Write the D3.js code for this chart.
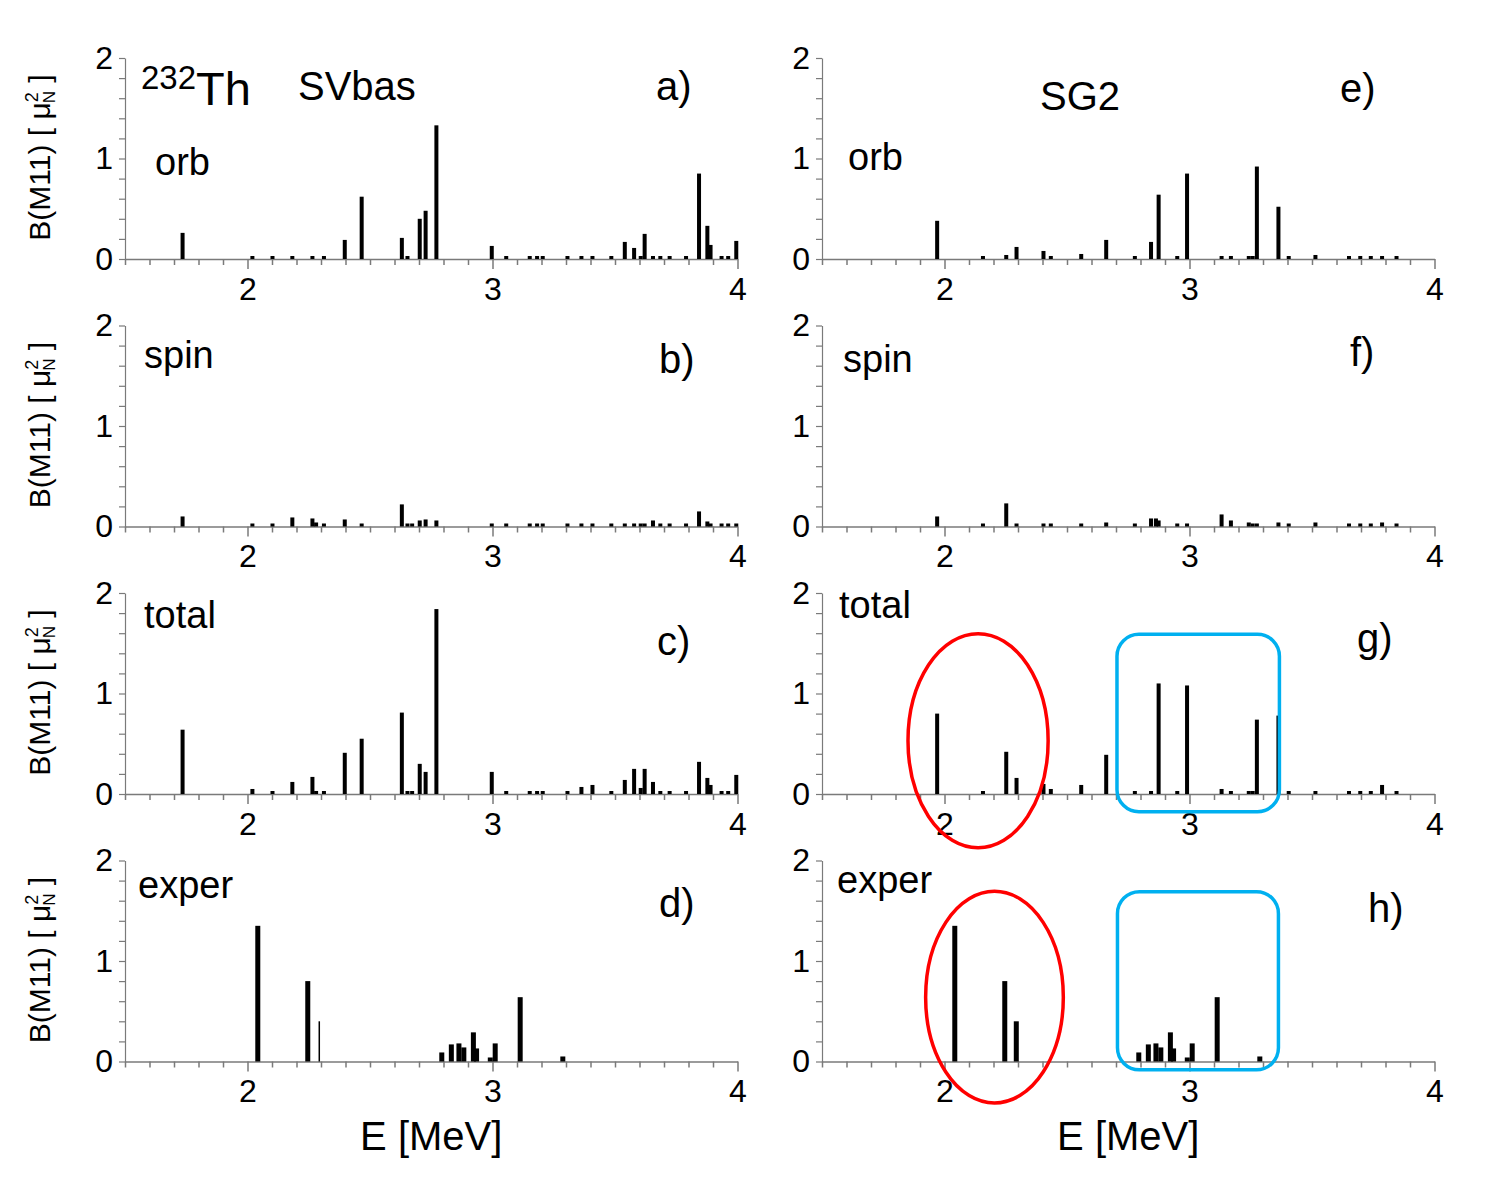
<!DOCTYPE html>
<html>
<head>
<meta charset="utf-8">
<script src="https://cdn.jsdelivr.net/npm/d3@7"></script>
<style>
body { margin: 0; background: #fff; }
svg { display: block; font-family: "Liberation Sans", Arial, sans-serif; }
</style>
</head>
<body>
<div id="graphic"></div>
<script>
// energies [MeV] and B(M1) strengths
var svbasE = [1.735, 2.02, 2.102, 2.183, 2.265, 2.28, 2.312, 2.397, 2.466, 2.63, 2.653, 2.672, 2.703, 2.727, 2.771,
	2.997, 3.056, 3.152, 3.182, 3.205, 3.306, 3.363, 3.408, 3.485, 3.54, 3.578, 3.605, 3.621, 3.655, 3.685,
	3.723, 3.79, 3.843, 3.877, 3.89, 3.935, 3.962, 3.995];
var svbasOrb = [0.26, 0.01, 0.01, 0.01, 0.02, 0, 0.01, 0.19, 0.62, 0.21, 0.02, 0, 0.40, 0.48, 1.33,
	0.13, 0.01, 0.01, 0.03, 0.02, 0.02, 0.01, 0.03, 0.02, 0.17, 0.11, 0.02, 0.25, 0.02, 0.01,
	0.01, 0.01, 0.85, 0.33, 0.14, 0.01, 0.01, 0.18];
var svbasSpin = [0.10, 0.02, 0.01, 0.09, 0.08, 0.04, 0.01, 0.07, 0.01, 0.22, 0.02, 0.02, 0.06, 0.07, 0.06,
	0.03, 0.01, 0.02, 0.02, 0.02, 0.02, 0.03, 0.03, 0.02, 0.02, 0.03, 0.02, 0.01, 0.06, 0.02,
	0.01, 0.01, 0.15, 0.05, 0.03, 0.02, 0.02, 0.02];
var svbasTotal = [0.64, 0.05, 0.02, 0.12, 0.17, 0.03, 0.01, 0.41, 0.55, 0.81, 0.01, 0.01, 0.30, 0.22, 1.84,
	0.22, 0.01, 0.01, 0.02, 0.02, 0.03, 0.07, 0.09, 0.01, 0.14, 0.25, 0.06, 0.25, 0.12, 0.01,
	0.01, 0.01, 0.32, 0.16, 0.09, 0.01, 0.01, 0.19];

var sg2E = [1.97, 2.157, 2.252, 2.294, 2.404, 2.434, 2.558, 2.66, 2.777, 2.843, 2.863, 2.874, 2.95, 2.99,
	3.131, 3.169, 3.242, 3.258, 3.275, 3.363, 3.405, 3.514, 3.651, 3.697, 3.74, 3.786, 3.845];
var sg2Orb = [0.38, 0.01, 0.04, 0.12, 0.08, 0.03, 0.05, 0.19, 0.01, 0.17, 0, 0.64, 0.02, 0.85,
	0.02, 0.03, 0.01, 0.02, 0.92, 0.52, 0.01, 0.04, 0.01, 0.03, 0.01, 0.01, 0.01];
var sg2Spin = [0.10, 0.01, 0.23, 0.02, 0.02, 0.02, 0.02, 0.04, 0.01, 0.08, 0.08, 0.06, 0.02, 0.03,
	0.12, 0.06, 0.04, 0.03, 0.03, 0.04, 0.01, 0.04, 0.01, 0.03, 0.02, 0.04, 0.02];
var sg2Total = [0.80, 0.01, 0.42, 0.16, 0.10, 0.05, 0.09, 0.39, 0.01, 0.03, 0, 1.10, 0.03, 1.08,
	0.05, 0.01, 0.03, 0.03, 0.74, 0.78, 0.02, 0.01, 0.01, 0.03, 0.01, 0.09, 0.02];

var experE = [2.042, 2.246, 2.293, 2.793, 2.832, 2.863, 2.883, 2.922, 2.935, 2.991, 3.011, 3.113, 3.287];
var experB = [1.35, 0.80, 0.40, 0.09, 0.17, 0.18, 0.14, 0.29, 0.13, 0.04, 0.18, 0.64, 0.05];

var xDomain = [1.5, 4];
var yDomain = [0, 2];
var xLabels = [2, 3, 4];
var yLabels = [0, 1, 2];

// highlight marks on g) and h), in data units
var redOvals = [
	{ panel: "g", cx: 2.137, cy: 0.53, rx: 0.286, ry: 1.065 },
	{ panel: "h", cx: 2.204, cy: 0.64, rx: 0.281, ry: 1.053 }
];
var blueBoxes = [
	{ panel: "g", e0: 2.704, e1: 3.367, b0: -0.176, b1: 1.59 },
	{ panel: "h", e0: 2.706, e1: 3.363, b0: -0.083, b1: 1.69 }
];

var panels = [
	{ id: "a", col: 0, row: 0, E: svbasE, B: svbasOrb, name: "orb", nx: 30, ny: 117, lx: 531, ly: 42 },
	{ id: "b", col: 0, row: 1, E: svbasE, B: svbasSpin, name: "spin", nx: 19, ny: 42, lx: 534, ly: 47 },
	{ id: "c", col: 0, row: 2, E: svbasE, B: svbasTotal, name: "total", nx: 19, ny: 35, lx: 532, ly: 62 },
	{ id: "d", col: 0, row: 3, E: experE, B: experB, name: "exper", nx: 13, ny: 37, lx: 534, ly: 56, bw: 5, thin: [2] },
	{ id: "e", col: 1, row: 0, E: sg2E, B: sg2Orb, name: "orb", nx: 26, ny: 112, lx: 518, ly: 44 },
	{ id: "f", col: 1, row: 1, E: sg2E, B: sg2Spin, name: "spin", nx: 21, ny: 46, lx: 528, ly: 40 },
	{ id: "g", col: 1, row: 2, E: sg2E, B: sg2Total, name: "total", nx: 17, ny: 25, lx: 535, ly: 59 },
	{ id: "h", col: 1, row: 3, E: experE, B: experB, name: "exper", nx: 15, ny: 32, lx: 546, ly: 61, bw: 5 }
];

var colX = [125, 822];
var rowY = [58, 325.5, 593, 860.5];
var W = 612.5, H = 201;
var axisCol = "#7a7a7a";

var svg = d3.select("#graphic").append("svg")
	.attr("width", 1504)
	.attr("height", 1179);

var x = d3.scaleLinear().domain(xDomain).range([0, W]);
var y = d3.scaleLinear().domain(yDomain).range([H, 0]);

var xMinor = d3.range(15, 41).map(function(i) { return i / 10; });
var yMinor = d3.range(0, 11).map(function(i) { return i / 5; });

function isLabel(list, d) {
	return list.some(function(v) { return Math.abs(v - d) < 1e-6; });
}

panels.forEach(function(p) {
	var g = svg.append("g")
		.attr("transform", "translate(" + colX[p.col] + "," + rowY[p.row] + ")");

	// y axis
	var ya = g.append("g")
		.call(d3.axisLeft(y).tickValues(yMinor).tickSize(6).tickSizeOuter(0).tickPadding(6)
			.tickFormat(function(d) { return isLabel(yLabels, d) ? d3.format("d")(d) : ""; }));
	ya.select(".domain").attr("stroke", axisCol).attr("stroke-width", 1.2);
	ya.selectAll(".tick line").attr("stroke", axisCol).attr("stroke-width", 1.2);
	ya.selectAll(".tick text").attr("fill", "#000").style("font-size", "32px")
		.attr("font-family", "Liberation Sans, Arial, sans-serif");

	// x axis
	var xa = g.append("g")
		.attr("transform", "translate(0," + H + ")")
		.call(d3.axisBottom(x).tickValues(xMinor).tickSize(6).tickSizeOuter(0).tickPadding(12)
			.tickFormat(function(d) { return isLabel(xLabels, d) ? d3.format("d")(d) : ""; }));
	xa.select(".domain").attr("stroke", axisCol).attr("stroke-width", 1.5);
	xa.selectAll(".tick line")
		.attr("stroke", axisCol)
		.attr("stroke-width", 1.5)
		.attr("y2", function(d) { return isLabel(xLabels, d) ? 10 : 6; });
	xa.selectAll(".tick text").attr("fill", "#000").style("font-size", "32px")
		.attr("font-family", "Liberation Sans, Arial, sans-serif");

	// bars
	var rows = p.E.map(function(e, i) { return { e: e, b: p.B[i], i: i }; })
		.filter(function(d) { return d.b > 0; });
	var bw = p.bw || 4;
	function barW(d) {
		return p.thin && p.thin.indexOf(d.i) >= 0 ? 1.5 : bw;
	}
	g.append("g").selectAll("rect")
		.data(rows)
		.enter()
		.append("rect")
		.attr("x", function(d) { return x(d.e) - barW(d) / 2; })
		.attr("width", barW)
		.attr("y", function(d) { return Math.min(y(d.b), y(0) - 3); })
		.attr("height", function(d) { return Math.max(y(0) - y(d.b), 3); })
		.attr("fill", "#000");

	// panel texts
	g.append("text")
		.attr("x", p.nx).attr("y", p.ny)
		.style("font-size", "38px")
		.text(p.name);
	g.append("text")
		.attr("x", p.lx).attr("y", p.ly)
		.style("font-size", "40px")
		.text(p.id + ")");

	p.g = g;
});

// titles in the top row
var ga = panels[0].g;
var th = ga.append("text").attr("x", 16).attr("y", 47);
th.append("tspan").style("font-size", "33px").attr("dy", -16).text("232");
th.append("tspan").style("font-size", "47px").attr("dy", 16).text("Th");
ga.append("text").attr("x", 173).attr("y", 42).style("font-size", "40px").text("SVbas");
panels[4].g.append("text").attr("x", 218).attr("y", 52).style("font-size", "40px").text("SG2");

// y titles
rowY.forEach(function(top) {
	var t = svg.append("text")
		.attr("transform", "translate(50," + (top + H / 2 - 1) + ") rotate(-90)")
		.attr("text-anchor", "middle")
		.style("font-size", "30px");
	t.append("tspan").text("B(M11) [ \u03bc");
	t.append("tspan").style("font-size", "18px").attr("dy", -12).text("2");
	t.append("tspan").style("font-size", "17px").attr("dx", -11).attr("dy", 17).text("N");
	t.append("tspan").attr("dy", -5).text(" ]");
});

// x titles
colX.forEach(function(x0) {
	svg.append("text")
		.attr("x", x0 + W / 2)
		.attr("y", 1150)
		.attr("text-anchor", "middle")
		.style("font-size", "40px")
		.text("E [MeV]");
});

// highlights
function panelById(id) {
	return panels.filter(function(p) { return p.id === id; })[0].g;
}
redOvals.forEach(function(o) {
	panelById(o.panel).append("ellipse")
		.attr("cx", x(o.cx)).attr("cy", y(o.cy))
		.attr("rx", x(o.cx + o.rx) - x(o.cx))
		.attr("ry", y(0) - y(o.ry))
		.attr("fill", "none")
		.attr("stroke", "#ff0000")
		.attr("stroke-width", 3.5);
});
blueBoxes.forEach(function(b) {
	panelById(b.panel).append("rect")
		.attr("x", x(b.e0)).attr("y", y(b.b1))
		.attr("width", x(b.e1) - x(b.e0))
		.attr("height", y(b.b0) - y(b.b1))
		.attr("rx", 22).attr("ry", 22)
		.attr("fill", "none")
		.attr("stroke", "#00b0f0")
		.attr("stroke-width", 3.5);
});
</script>
</body>
</html>
